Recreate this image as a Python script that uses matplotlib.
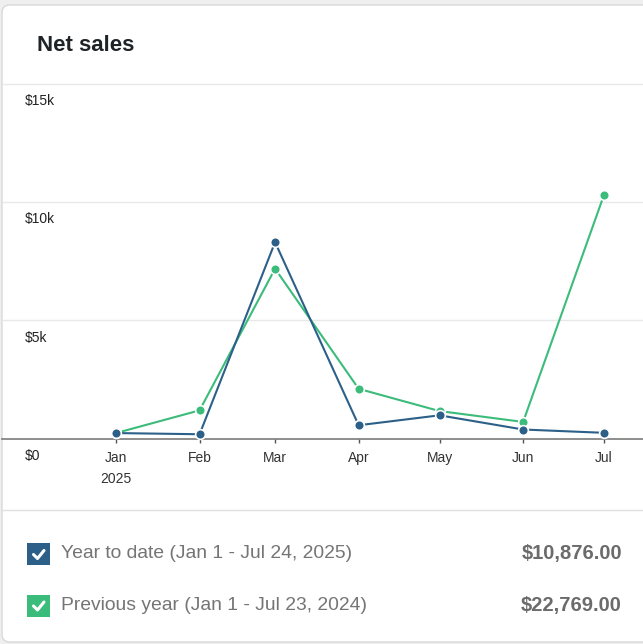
import datetime as dt
import matplotlib
matplotlib.use("Agg")
import matplotlib.pyplot as plt
import matplotlib.dates as mdates
from matplotlib.patches import FancyBboxPatch, Rectangle
from matplotlib.lines import Line2D

plt.rcParams['font.family'] = ['Liberation Sans', 'DejaVu Sans']

months = ['Jan\n2025', 'Feb', 'Mar', 'Apr', 'May', 'Jun', 'Jul']
month_dates = [dt.date(2025, m, 1) for m in range(1, 8)]
year_to_date = [230, 180, 8300, 560, 980, 380, 240]
previous_year = [230, 1190, 7180, 2100, 1160, 700, 10300]
y_ticks = [0, 5000, 10000, 15000]
y_labels = ['$0', '$5k', '$10k', '$15k']
legend_labels = ['Year to date (Jan 1 - Jul 24, 2025)',
                 'Previous year (Jan 1 - Jul 23, 2024)']
legend_totals = ['$10,876.00', '$22,769.00']

BLUE = '#2c6089'
GREEN = '#3bbc7a'

W, H = 643, 644
fig = plt.figure(figsize=(W / 100, H / 100), dpi=100)
fig.patch.set_facecolor('#efefef')


def fx(px):
    return px / W


def fy(py):
    return 1 - py / H


# card behind everything
card = FancyBboxPatch((fx(2), fy(642)), fx(700), (642 - 5) / H,
                      boxstyle="round,pad=0,rounding_size=0.012",
                      transform=fig.transFigure, facecolor='white',
                      edgecolor='#d9d9d9', linewidth=1, zorder=-5)
fig.patches.append(card)

fig.text(fx(37), fy(45.5), 'Net sales', fontsize=16, fontweight='bold',
         color='#1e2327', va='center', ha='left')

# chart
top, base = 83.75, 438.5
ax = fig.add_axes([fx(2), fy(base), fx(641), (base - top) / H])
ax.set_facecolor('none')
ax.set_zorder(2)
x = mdates.date2num(month_dates)
ppd = (604 - 116) / (x[-1] - x[0])
ax.set_xlim(x[0] - (116 - 2) / ppd, x[-1] + (643 - 604) / ppd)
ax.set_ylim(0, 15000)

for v in y_ticks[1:]:
    ax.axhline(v, color='#e8e8e8', lw=1, zorder=1, clip_on=False)
ax.axhline(0, color='#7a7a7a', lw=1.2, zorder=2, clip_on=False)

ax.plot(x, previous_year, color=GREEN, lw=1.5, marker='o', ms=7,
        mfc=GREEN, mec='white', mew=1.2, zorder=3, clip_on=False)
ax.plot(x, year_to_date, color=BLUE, lw=1.5, marker='o', ms=7,
        mfc=BLUE, mec='white', mew=1.2, zorder=4, clip_on=False)

for s in ax.spines.values():
    s.set_visible(False)
ax.set_yticks([])
ax.set_xticks(x)
ax.set_xticklabels(months, fontsize=10, color='#333333', linespacing=1.6)
ax.tick_params(axis='x', length=3, width=1, color='#555555', pad=6)

for v, lab in zip(y_ticks, y_labels):
    ax.annotate(lab, xy=(fx(25), v), xycoords=('figure fraction', 'data'),
                xytext=(0, -12.6), textcoords='offset points',
                fontsize=10, color='#222222', va='center', ha='left')

# separator under chart
fig.add_artist(Line2D([fx(2), 1], [fy(510), fy(510)], color='#e0e0e0',
                      lw=1, transform=fig.transFigure))

# legend rows
for i, (lab, tot, col) in enumerate(zip(legend_labels, legend_totals, [BLUE, GREEN])):
    cy = 554 + i * 51.5
    fig.add_artist(Rectangle((fx(27.5), fy(cy + 11)), fx(22), 22 / H,
                             transform=fig.transFigure, facecolor=col,
                             edgecolor='none'))
    fig.add_artist(Line2D([fx(33.5), fx(37.5), fx(44)],
                          [fy(cy + 0.5), fy(cy + 4.5), fy(cy - 3.5)],
                          color='white', lw=2.2, solid_capstyle='round',
                          solid_joinstyle='round', transform=fig.transFigure))
    fig.text(fx(61), fy(cy), lab, fontsize=13.9, color='#757575',
             va='center', ha='left')
    fig.text(fx(622), fy(cy), tot, fontsize=14.5, fontweight='bold',
             color='#6b6b6b', va='center', ha='right')

fig.savefig('out.png', dpi=100, facecolor=fig.get_facecolor())
